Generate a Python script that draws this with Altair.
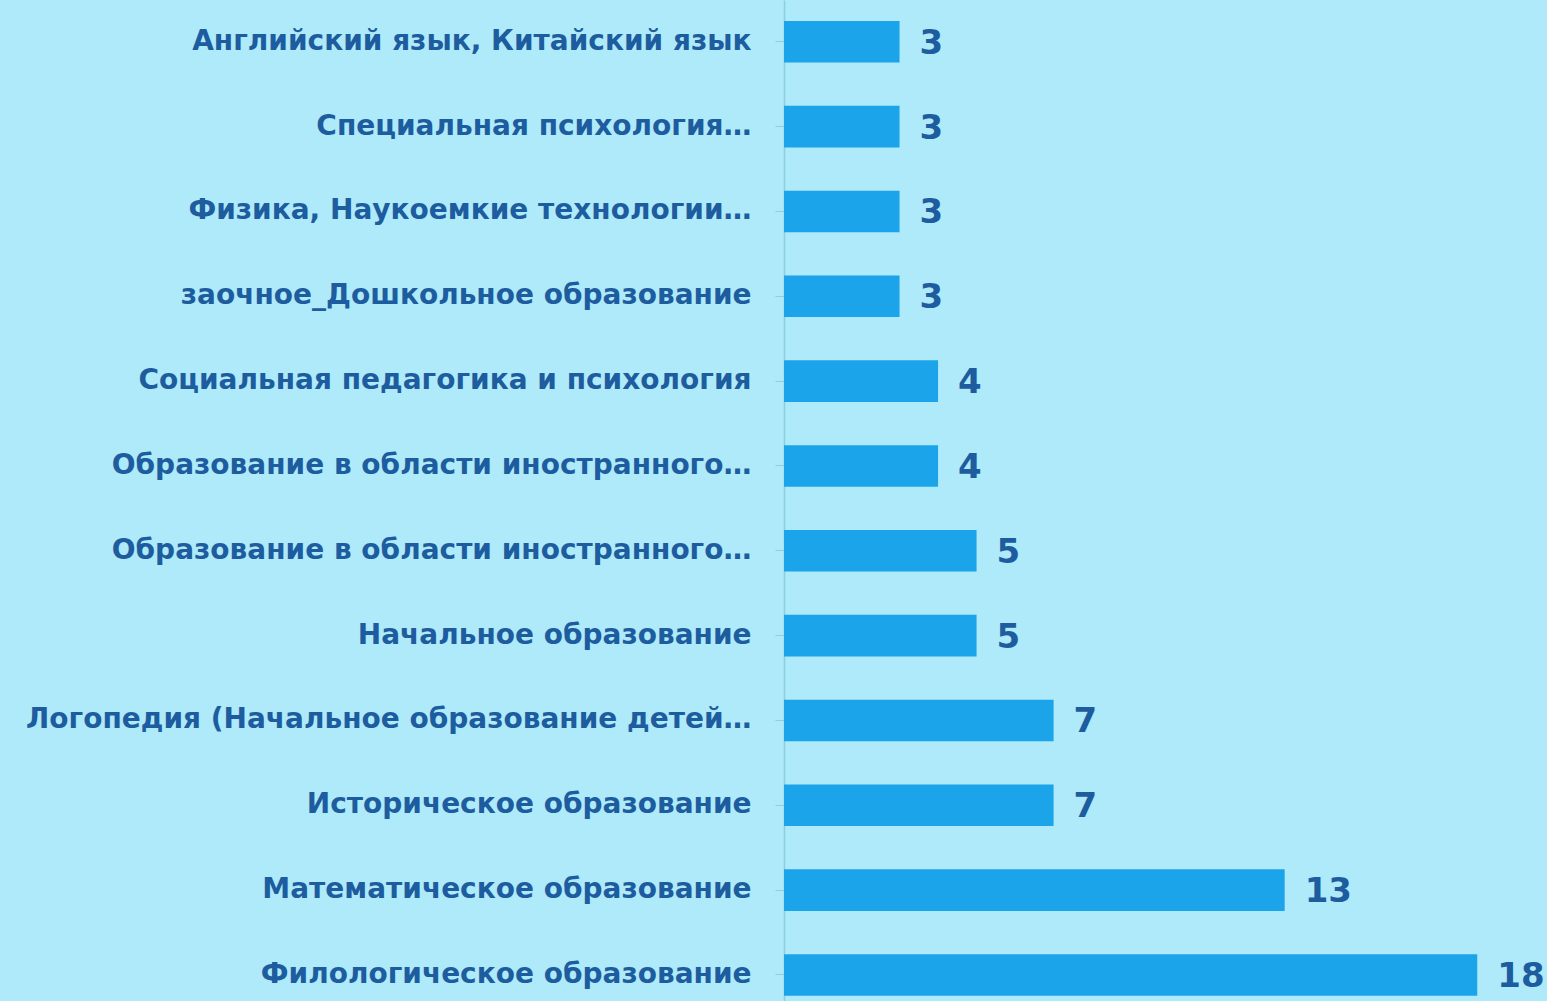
import altair as alt
import pandas as pd

categories = [
    "Английский язык, Китайский язык",
    "Специальная психология…",
    "Физика, Наукоемкие технологии…",
    "заочное_Дошкольное образование",
    "Социальная педагогика и психология",
    "Образование в области иностранного…",
    "Образование в области иностранного… ",
    "Начальное образование",
    "Логопедия (Начальное образование детей…",
    "Историческое образование",
    "Математическое образование",
    "Филологическое образование",
]
values = [3, 3, 3, 3, 4, 4, 5, 5, 7, 7, 13, 18]

df = pd.DataFrame({"cat": categories, "val": values})

TEXT = "#1d5c9e"
BAR = "#1ba4e9"
BG = "#aeeaf9"

y_enc = alt.Y(
    "cat:N",
    sort=categories,
    title=None,
    scale=alt.Scale(paddingInner=0.51, paddingOuter=0.155, align=0.8),
    axis=alt.Axis(
        labelFont="DejaVu Sans",
        labelFontSize=28,
        labelFontWeight="bold",
        labelColor=TEXT,
        labelPadding=24,
        labelLimit=780,
        tickSize=9,
        tickColor="#8ccfe3",
        domainColor="#8ccfe3",
        domainWidth=1.5,
    ),
)
x_enc = alt.X(
    "val:Q",
    title=None,
    scale=alt.Scale(domain=[0, 19.5], nice=False),
    axis=None,
)

bars = alt.Chart(df).mark_bar(color=BAR).encode(y=y_enc, x=x_enc)
labels = alt.Chart(df).mark_text(
    align="left", baseline="middle", dx=20, dy=2,
    font="DejaVu Sans", fontSize=34, fontWeight="bold", color=TEXT,
).encode(y=alt.Y("cat:N", sort=categories), x="val:Q", text="val:Q")

chart = (
    alt.layer(bars, labels)
    .properties(
        width=751,
        height=1001,
        background=BG,
        autosize=alt.AutoSizeParams(type="none"),
        padding={"left": 784, "top": 0, "right": 12, "bottom": 0},
    )
    .configure_view(stroke=None)
)

chart.save("out.html", embed_options={"renderer": "svg", "actions": False})
